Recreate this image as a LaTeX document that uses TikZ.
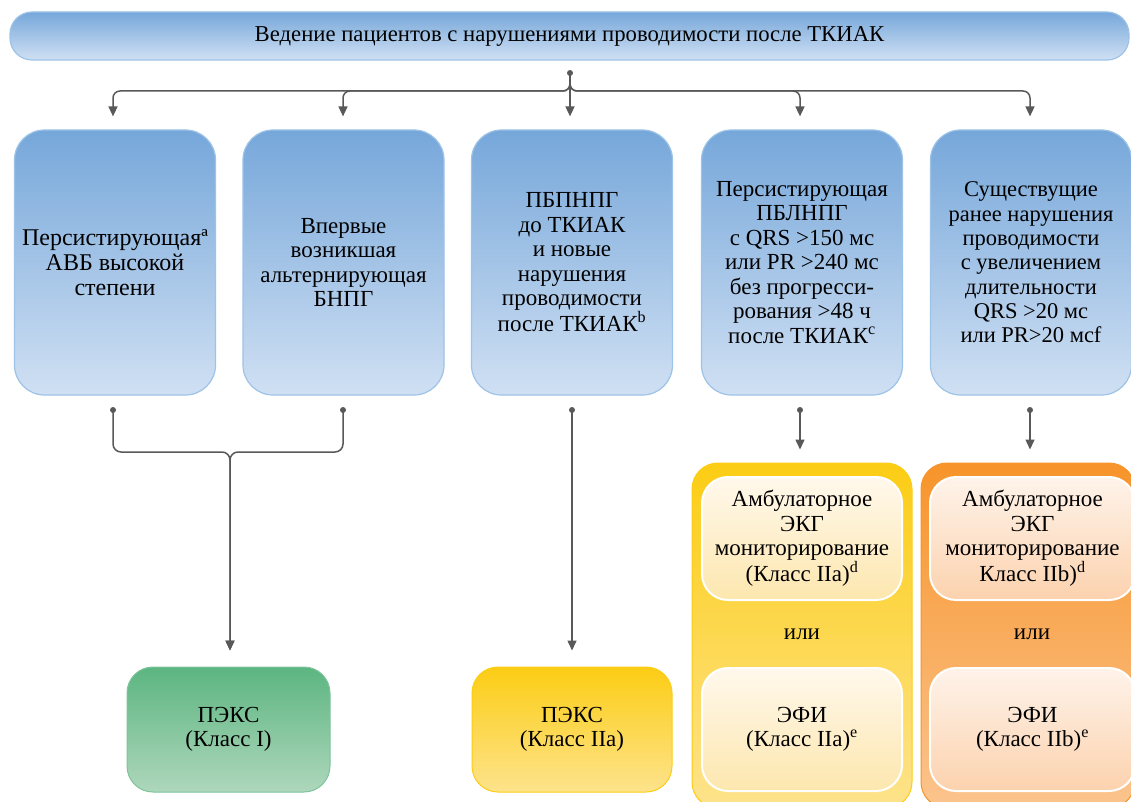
\documentclass[tikz,border=0pt]{standalone}
\usepackage{fontspec}
\setmainfont{Liberation Serif}
\newfontfamily\tnr{Liberation Serif}
\usetikzlibrary{arrows.meta}
\definecolor{blueT}{HTML}{76A7DA}
\definecolor{blueB}{HTML}{D0E0F3}
\definecolor{blueE}{HTML}{9DC3E6}
\definecolor{greenT}{HTML}{5CB581}
\definecolor{greenB}{HTML}{AED7BB}
\definecolor{yelT}{HTML}{FCCD14}
\definecolor{yelB}{HTML}{FDE38C}
\definecolor{oraT}{HTML}{F7942A}
\definecolor{oraB}{HTML}{FBC48E}
\definecolor{inYT}{HTML}{FFF8EC}
\definecolor{inYB}{HTML}{FDE7AE}
\definecolor{inOT}{HTML}{FEF3EA}
\definecolor{inOB}{HTML}{FCD2AE}
\definecolor{conn}{HTML}{595959}
\tikzset{
  x=1pt,y=-1pt,
  txt/.style={font=\tnr\fontsize{23}{24.5}\selectfont, align=center, text=black},
  bluebox/.style={txt, rounded corners=30pt, draw=blueE, line width=1.2pt, top color=blueT, bottom color=blueB, minimum width=201pt, minimum height=265pt, inner sep=2pt},
  titlebox/.style={txt, font=\tnr\fontsize{22.7}{24}\selectfont, rounded corners=22pt, draw=blueE, line width=1.2pt, top color=blueT, bottom color=blueB, minimum width=1119pt, minimum height=48pt},
  greenbox/.style={txt, rounded corners=26pt, draw=greenT!80, line width=1pt, top color=greenT, bottom color=greenB, minimum width=203pt, minimum height=125pt},
  yelbox/.style={txt, rounded corners=26pt, draw=yelT, line width=1pt, top color=yelT, bottom color=yelB, minimum width=200pt, minimum height=125pt},
  panelY/.style={rounded corners=26pt, draw=yelT, line width=1pt, top color=yelT, bottom color=yelB, minimum width=220pt, minimum height=345pt},
  panelO/.style={rounded corners=26pt, draw=oraT, line width=1pt, top color=oraT, bottom color=oraB, minimum width=214pt, minimum height=345pt},
  innerY/.style={txt, rounded corners=26pt, draw=white, line width=2pt, top color=inYT, bottom color=inYB, minimum width=200pt, minimum height=123pt},
  innerO/.style={txt, rounded corners=26pt, draw=white, line width=2pt, top color=inOT, bottom color=inOB, minimum width=205pt, minimum height=123pt},
  dot/.style={circle, fill=conn, inner sep=0pt, minimum size=6pt},
  line/.style={draw=conn, line width=1.5pt},
  arr/.style={line, -{Triangle[length=10pt,width=9pt]}},
}
\begin{document}
\begin{tikzpicture}
\useasboundingbox (0,0) rectangle (1131,802);
\fill[white] (0,0) rectangle (1131,802);
% title
\node[titlebox] (title) at (569.5,36) {Ведение пациентов с нарушениями проводимости после ТКИАК};
% top boxes
\node[bluebox, font=\tnr\fontsize{24}{25}\selectfont] (b1) at (115,262.5) {Персистирующаяª\\АВБ высокой\\степени};
\node[bluebox] (b2) at (343.5,262.5) {Впервые\\возникшая\\альтернирующая\\БНПГ};
\node[bluebox] (b3) at (572,262.5) {ПБПНПГ\\до ТКИАК\\и новые\\нарушения\\проводимости\\после ТКИАК\textsuperscript{b}};
\node[bluebox] (b4) at (802,262.5) {Персистирующая\\ПБЛНПГ\\с QRS >150 мс\\или PR >240 мс\\без прогресси-\\рования >48 ч\\после ТКИАК\textsuperscript{c}};
\node[bluebox, font=\tnr\fontsize{22.5}{24.3}\selectfont] (b5) at (1031,262.5) {Существущие\\ранее нарушения\\проводимости\\с увеличением\\длительности\\QRS >20 мс\\или PR>20 мсf};
% bottom
\node[greenbox] (g1) at (228.5,729.5) {ПЭКС\\(Класс I)};
\node[yelbox] (y1) at (572,729.5) {ПЭКС\\(Класс IIa)};
\node[panelY] (pY) at (802,635.5) {};
\node[panelO] (pO) at (1028,635.5) {};
\node[innerY] (aY) at (802,538.5) {Амбулаторное\\ЭКГ\\мониторирование\\(Класс IIa)\textsuperscript{d}};
\node[txt] (orY) at (802,634) {или};
\node[innerY] (eY) at (802,729.5) {ЭФИ\\(Класс IIa)\textsuperscript{e}};
\node[innerO] (aO) at (1032.5,538.5) {Амбулаторное\\ЭКГ\\мониторирование\\Класс IIb)\textsuperscript{d}};
\node[txt] (orO) at (1032,634) {или};
\node[innerO] (eO) at (1032.5,729.5) {ЭФИ\\(Класс IIb)\textsuperscript{e}};
% dots
\node[dot] (dt) at (570,73) {};
\node[dot] (d1) at (113,410) {};
\node[dot] (d2) at (343,410) {};
\node[dot] (d3) at (572,410) {};
\node[dot] (d4) at (800,410) {};
\node[dot] (d5) at (1030,410) {};
% top connectors
\draw[arr, rounded corners=7pt, shorten >=13pt] (dt.center) -- (570,91) -| (b1.north -| d1);
\draw[arr, rounded corners=7pt, shorten >=13pt] (dt.center) -- (570,91) -| (b2.north -| d2);
\draw[arr, shorten >=13pt] (dt.center) -- (b3.north -| dt);
\draw[arr, rounded corners=7pt, shorten >=13pt] (dt.center) -- (570,91) -| (b4.north -| d4);
\draw[arr, rounded corners=7pt, shorten >=13pt] (dt.center) -- (570,91) -| (b5.north -| d5);
% bottom connectors
\draw[arr, rounded corners=8pt, shorten >=16pt] (d1.center) -- (113,452) -- (230,452) -- (g1.north -| 230,0);
\draw[arr, rounded corners=8pt, shorten >=16pt] (d2.center) -- (343,452) -- (230,452) -- (g1.north -| 230,0);
\draw[arr, shorten >=16pt] (d3.center) -- (y1.north -| d3);
\draw[arr, shorten >=13pt] (d4.center) -- (pY.north -| d4);
\draw[arr, shorten >=13pt] (d5.center) -- (pO.north -| d5);
\end{tikzpicture}
\end{document}
